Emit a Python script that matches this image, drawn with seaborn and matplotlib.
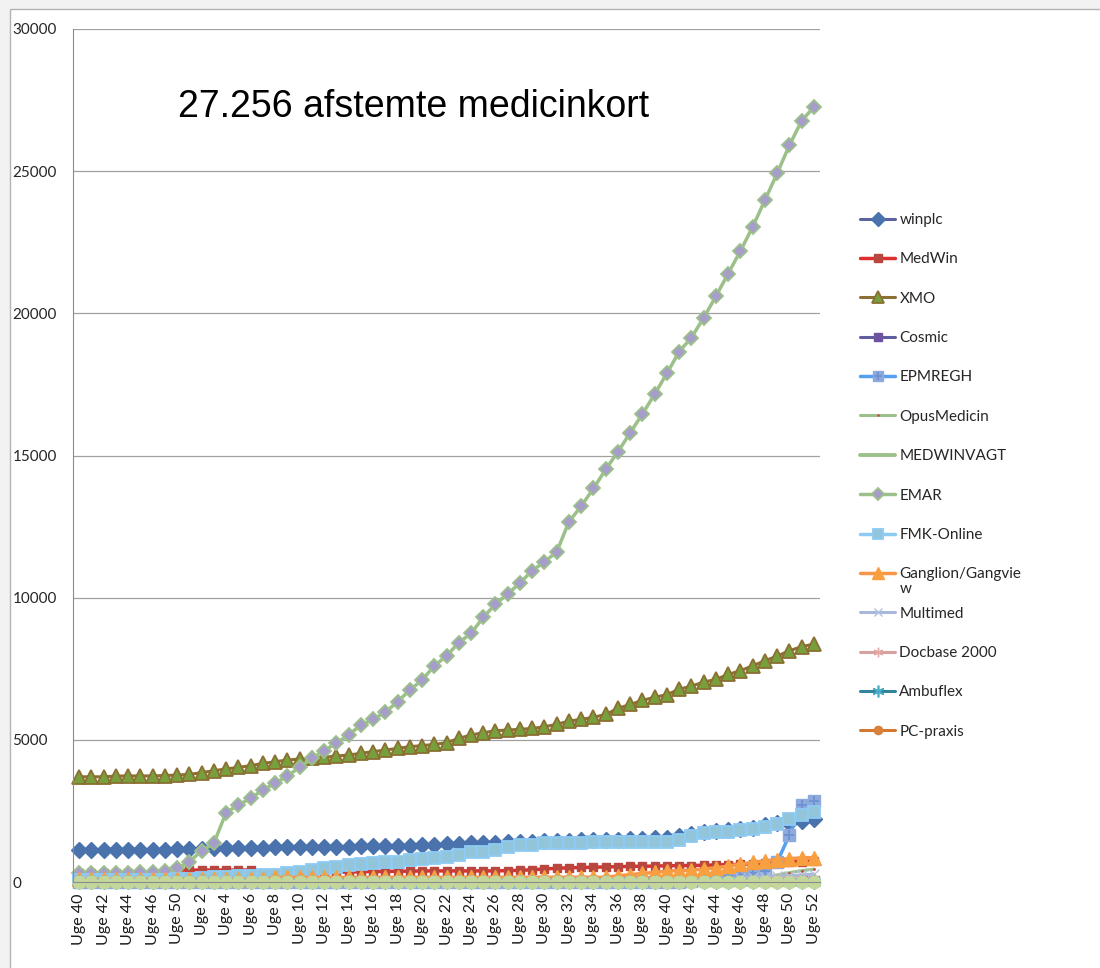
import numpy as np
import matplotlib
matplotlib.use("Agg")
import matplotlib.pyplot as plt
import seaborn as sns
from matplotlib.legend_handler import HandlerTuple
from matplotlib.patches import Rectangle

# week numbers on the category axis (two seasons, as in the sheet)
weeks = [40, 41, 42, 43, 44, 45, 46, 48, 50, 1] + list(range(2, 53))
week_labels = ["Uge %d" % w for w in weeks]

winplc = [1130, 1130, 1130, 1130, 1135, 1135, 1140, 1140, 1145, 1150,
          1160, 1180, 1190, 1200, 1205, 1210, 1215, 1220, 1225, 1230,
          1235, 1240, 1245, 1250, 1255, 1260, 1270, 1280, 1290, 1310,
          1330, 1350, 1360, 1370, 1380, 1390, 1400, 1420, 1430, 1440,
          1450, 1460, 1470, 1480, 1490, 1500, 1510, 1530, 1560, 1620,
          1700, 1750, 1790, 1830, 1870, 1910, 1990, 2080, 2080, 2150,
          2230]
medwin = [330, 330, 330, 330, 330, 330, 330, 340, 420, 420,
          420, 420, 420, 420, 420, 300, 300, 300, 310, 320,
          330, 340, 350, 360, 370, 370, 380, 380, 390, 390,
          390, 390, 390, 390, 390, 400, 410, 430, 460, 480,
          500, 510, 520, 530, 540, 550, 555, 560, 570, 575,
          580, 590, 600, 610, 620, 640, 660, 680, 700, 720,
          740]
xmo = [3700, 3700, 3700, 3725, 3730, 3730, 3730, 3745, 3760, 3785,
       3845, 3915, 3975, 4030, 4090, 4170, 4230, 4290, 4325, 4350,
       4385, 4430, 4465, 4525, 4585, 4640, 4700, 4760, 4795, 4840,
       4900, 5050, 5170, 5250, 5320, 5345, 5370, 5400, 5460, 5545,
       5660, 5720, 5790, 5895, 6105, 6245, 6385, 6500, 6585, 6780,
       6890, 7030, 7125, 7300, 7430, 7605, 7780, 7945, 8135, 8275,
       8370]
cosmic = [20, 20, 20, 20, 20, 20, 20, 20, 20, 20,
          20, 20, 20, 20, 20, 20, 20, 20, 20, 20,
          20, 20, 20, 20, 20, 20, 20, 20, 20, 20,
          20, 20, 20, 20, 20, 20, 20, 20, 20, 20,
          20, 20, 20, 20, 20, 20, 20, 20, 20, 20,
          20, 20, 20, 20, 20, 20, 20, 20, 20, 20,
          20]
epmregh = [0, 0, 0, 0, 0, 0, 0, 0, 0, 0,
           0, 0, 0, 0, 0, 0, 0, 0, 0, 0,
           0, 0, 0, 0, 0, 0, 0, 0, 0, 0,
           0, 0, 0, 0, 0, 0, 0, 0, 0, 0,
           0, 0, 0, 0, 0, 0, 0, 0, 0, 0,
           50, 100, 150, 200, 250, 300, 380, 700, 1650, 2700,
           2850]
opusmedicin = [0, 0, 0, 0, 0, 0, 0, 0, 0, 0,
               0, 0, 0, 0, 0, 0, 0, 0, 0, 0,
               0, 0, 0, 0, 0, 0, 0, 0, 0, 0,
               0, 0, 0, 0, 0, 0, 0, 0, 0, 0,
               0, 0, 0, 0, 0, 0, 0, 0, 0, 0,
               0, 0, 0, 0, 0, 0, 150, 250, 330, 400,
               450]
medwinvagt = [0, 0, 0, 0, 0, 0, 0, 0, 0, 0,
              0, 0, 0, 0, 0, 0, 0, 0, 0, 0,
              0, 0, 0, 0, 0, 0, 0, 0, 0, 0,
              0, 0, 0, 0, 0, 0, 0, 0, 0, 0,
              0, 0, 0, 0, 0, 0, 0, 0, 0, 0,
              0, 0, 0, 0, 0, 0, 0, 0, 0, 0,
              0]
emar = [300, 300, 310, 320, 330, 340, 360, 380, 480, 710,
        1100, 1360, 2440, 2710, 2940, 3240, 3470, 3730, 4030, 4350,
        4620, 4880, 5170, 5520, 5720, 5970, 6340, 6750, 7100, 7600,
        7950, 8420, 8740, 9310, 9770, 10130, 10520, 10950, 11260, 11610,
        12670, 13220, 13840, 14510, 15130, 15800, 16460, 17160, 17890, 18650,
        19150, 19840, 20600, 21400, 22190, 23040, 23980, 24920, 25910, 26770,
        27256]
fmk_online = [60, 60, 60, 60, 60, 60, 70, 80, 100, 120,
              140, 160, 180, 200, 220, 240, 260, 300, 340, 410,
              480, 540, 600, 630, 660, 690, 720, 760, 810, 840,
              890, 950, 1065, 1070, 1125, 1240, 1300, 1300, 1360, 1385,
              1385, 1385, 1395, 1395, 1395, 1420, 1420, 1420, 1420, 1475,
              1630, 1710, 1745, 1770, 1830, 1865, 1945, 2040, 2200, 2355,
              2475]
ganglion = [100, 100, 100, 100, 100, 100, 100, 100, 100, 100,
            100, 100, 100, 100, 100, 100, 160, 160, 160, 160,
            160, 160, 160, 160, 160, 160, 160, 160, 160, 160,
            160, 160, 160, 160, 160, 160, 160, 160, 160, 160,
            160, 160, 160, 160, 220, 260, 300, 340, 380, 400,
            420, 450, 500, 560, 630, 690, 740, 790, 820, 850,
            860]
multimed = [0, 0, 0, 0, 0, 0, 0, 0, 0, 0,
            0, 0, 0, 0, 0, 0, 0, 0, 0, 0,
            0, 0, 0, 0, 0, 0, 0, 0, 0, 0,
            0, 0, 0, 0, 0, 0, 0, 0, 0, 0,
            0, 0, 0, 0, 0, 0, 0, 0, 0, 0,
            0, 0, 0, 0, 150, 170, 190, 200, 220, 250,
            280]
docbase = [0, 0, 0, 0, 0, 0, 0, 0, 0, 0,
           0, 0, 0, 0, 0, 0, 0, 0, 0, 0,
           0, 0, 0, 0, 0, 0, 0, 0, 0, 0,
           0, 0, 0, 0, 0, 0, 0, 0, 0, 0,
           0, 0, 0, 0, 0, 0, 0, 0, 0, 0,
           0, 0, 0, 0, 60, 70, 80, 90, 100, 110,
           120]
ambuflex = [0, 0, 0, 0, 0, 0, 0, 0, 0, 0,
            0, 0, 0, 0, 0, 0, 0, 0, 0, 0,
            0, 0, 0, 0, 0, 0, 0, 0, 0, 0,
            0, 0, 0, 0, 0, 0, 0, 0, 0, 0,
            0, 0, 0, 0, 0, 0, 0, 0, 0, 0,
            0, 0, 0, 0, 0, 0, 0, 0, 0, 0,
            0]
pc_praxis = [0, 0, 0, 0, 0, 0, 0, 0, 0, 0,
             0, 0, 0, 0, 0, 0, 0, 0, 0, 0,
             0, 0, 0, 0, 0, 0, 0, 0, 0, 0,
             0, 0, 0, 0, 0, 0, 0, 0, 0, 0,
             0, 0, 0, 0, 0, 0, 0, 0, 0, 0,
             0, 0, 0, 0, 0, 0, 0, 0, 0, 0,
             0]
# series beyond the legend's cut-off (pale green circles along zero)
other = [0, 0, 0, 0, 0, 0, 0, 0, 0, 0,
         0, 0, 0, 0, 0, 0, 0, 0, 0, 0,
         0, 0, 0, 0, 0, 0, 0, 0, 0, 0,
         0, 0, 0, 0, 0, 0, 0, 0, 0, 0,
         0, 0, 0, 0, 0, 0, 0, 0, 0, 0,
         0, 0, 0, 0, 0, 0, 0, 0, 0, 0,
         0]

series = [("winplc", winplc), ("MedWin", medwin), ("XMO", xmo), ("Cosmic", cosmic),
          ("EPMREGH", epmregh), ("OpusMedicin", opusmedicin), ("MEDWINVAGT", medwinvagt),
          ("EMAR", emar), ("FMK-Online", fmk_online), ("Ganglion/Gangvie", ganglion),
          ("Multimed", multimed), ("Docbase 2000", docbase), ("Ambuflex", ambuflex),
          ("PC-praxis", pc_praxis), ("_other", other)]

asterisk = (6, 2, 0)
styles = {
    "winplc": dict(color="#5A62A0", lw=2.2, marker="D", ms=8, mfc="#4A72AC", mec="#4A72AC", mew=1),
    "MedWin": dict(color="#DC2F2F", lw=2.5, marker="s", ms=6, mfc="#B8473F", mec="#B8473F", mew=1),
    "XMO": dict(color="#8B6F33", lw=2.2, marker="^", ms=10, mfc="#77A03C", mec="#8B6F33", mew=1.3),
    "Cosmic": dict(color="#5F5D9F", lw=2.2, marker="s", ms=7, mfc="#6E53A0", mec="#6E53A0", mew=1),
    "EPMREGH": dict(color="#55A0EE", lw=2.5, marker="s", ms=9, mfc="#8EA9DB", mec="#8EA9DB", mew=1),
    "OpusMedicin": dict(color="#9CC08A", lw=2.2, marker="o", ms=1.5, mfc="#C0504D", mec="#C0504D", mew=0.5),
    "MEDWINVAGT": dict(color="#9CC08A", lw=2.8, marker="", ms=0, mfc="none", mec="none", mew=0),
    "EMAR": dict(color="#9CC08A", lw=2.5, marker="D", ms=7, mfc="#A79DCB", mec="#9CC08A", mew=1.3),
    "FMK-Online": dict(color="#8DCBF5", lw=2.5, marker="s", ms=9, mfc="#92C4DA", mec="#8DCBF5", mew=1.3),
    "Ganglion/Gangvie": dict(color="#F79646", lw=2.5, marker="^", ms=10, mfc="#F8A040", mec="#F8A040", mew=1),
    "Multimed": dict(color="#A7B8DA", lw=2.2, marker="x", ms=7, mfc="#B3C2E0", mec="#B3C2E0", mew=1),
    "Docbase 2000": dict(color="#D9A0A0", lw=2.2, marker=asterisk, ms=8, mfc="#E2A8A8", mec="#E2A8A8", mew=1),
    "Ambuflex": dict(color="#31849B", lw=2.2, marker=asterisk, ms=10, mfc="#4BACC6", mec="#4BACC6", mew=1.2),
    "PC-praxis": dict(color="#D2782F", lw=2.2, marker="o", ms=7, mfc="#D9813A", mec="#D9813A", mew=1),
    "_other": dict(color="#C4D79B", lw=2.0, marker="o", ms=9, mfc="#C4D79B", mec="#C4D79B", mew=1),
}

sns.set_style("white")
plt.rcParams["font.family"] = ["Lato", "DejaVu Sans"]

fig = plt.figure(figsize=(11, 9.68), dpi=100, facecolor="#F2F2F2")
fig.patches.append(Rectangle((10 / 1100, -0.1), 1.2, (968 - 9) / 968 + 0.1,
                             transform=fig.transFigure, facecolor="white",
                             edgecolor="#B4B4B4", linewidth=1, zorder=-10))
ax = fig.add_axes([73 / 1100, 86 / 968, 747 / 1100, 853 / 968])
ax.set_facecolor("none")

x_pos = np.arange(len(week_labels))
lines = {}
for name, vals in series:
    st = styles[name]
    sns.lineplot(x=x_pos, y=vals, ax=ax, sort=False, label=name, color=st["color"],
                 linewidth=st["lw"], marker=st["marker"], markersize=st["ms"],
                 markerfacecolor=st["mfc"], markeredgecolor=st["mec"],
                 markeredgewidth=st["mew"], clip_on=False)
    lines[name] = ax.lines[-1]
    if name == "EPMREGH":
        ax.plot(x_pos, vals, ls="none", marker="+", ms=7, mew=1.4, color="#6F93D0", clip_on=False)
        lines["EPMREGH+"] = ax.lines[-1]

ax.set_xlim(-0.5, len(week_labels) - 0.5)
ax.set_ylim(0, 30000)
ax.set_yticks(range(0, 30001, 5000))
ax.set_yticklabels([str(v) for v in range(0, 30001, 5000)])
ax.set_xticks(x_pos[::2])
ax.set_xticklabels(week_labels[::2], rotation=90, fontsize=11.5, color="#1A1A1A")
ax.tick_params(axis="x", length=0, pad=8)
ax.tick_params(axis="y", length=4, width=0.8, color="#8C8C8C", pad=39.5, labelsize=11,
               labelcolor="#262626")
for lab in ax.get_yticklabels():
    lab.set_horizontalalignment("left")
ax.yaxis.grid(True, color="#A0A0A0", linewidth=0.9)
ax.xaxis.grid(False)
ax.set_axisbelow(True)
for side in ["top", "right"]:
    ax.spines[side].set_visible(False)
ax.spines["left"].set_color("#8C8C8C")
ax.spines["bottom"].set_color("#8C8C8C")
ax.set_xlabel("")
ax.set_ylabel("")

ax.text(0.4565, 0.8968, "27.256 afstemte medicinkort", transform=ax.transAxes,
        ha="center", va="baseline", fontsize=27, family=["Liberation Sans", "DejaVu Sans"],
        color="black")

# legend, without the series cut off by the chart
handles, names = [], []
for name, vals in series:
    if name.startswith("_"):
        continue
    h = lines[name]
    if name == "EPMREGH":
        h = (lines["EPMREGH"], lines["EPMREGH+"])
    handles.append(h)
    names.append(name)
leg = ax.legend(handles, names, loc="upper left", bbox_to_anchor=(860 / 1100, (968 - 213) / 968),
                bbox_transform=fig.transFigure, frameon=False, fontsize=11, numpoints=1,
                handlelength=2.3, handletextpad=0.28, labelspacing=1.66, borderpad=0,
                borderaxespad=0, markerscale=0.85, handler_map={tuple: HandlerTuple(ndivide=1)})
for t in leg.get_texts():
    t.set_color("#262626")

# Excel wrapped the long name onto a second line
fig.canvas.draw()
renderer = fig.canvas.get_renderer()
gtext = [t for t in leg.get_texts() if t.get_text() == "Ganglion/Gangvie"][0]
bb = gtext.get_window_extent(renderer)
fig.text(bb.x0 / 1100, (bb.y0 - 1) / 968, "w", ha="left", va="top", fontsize=11, color="#262626")

fig.savefig("out.png", dpi=100, facecolor=fig.get_facecolor())
